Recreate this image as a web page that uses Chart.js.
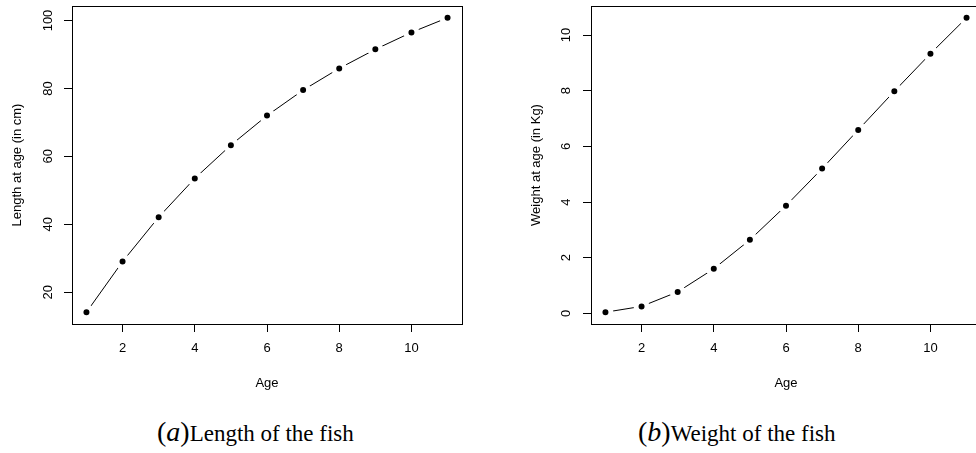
<!DOCTYPE html>
<html>
<head>
<meta charset="utf-8">
<script src="https://cdn.jsdelivr.net/npm/chart.js@4"></script>
<style>
  html, body { margin:0; padding:0; background:#fff; width:976px; height:453px; overflow:hidden; position:relative; }
  canvas { position:absolute; top:0; }
  #c1 { left:0; }
  #c2 { left:519px; }
  .cap { position:absolute; top:417px; white-space:nowrap; font-family:"Liberation Serif", serif; font-size:23px; color:#000; line-height:30px; }
  .cap .tag { font-size:28px; }
  #cap1 { left:157px; }
  #cap2 { left:638px; }
</style>
</head>
<body>
<canvas id="c1" width="490" height="400"></canvas>
<canvas id="c2" width="490" height="400"></canvas>
<div class="cap" id="cap1"><span class="tag">(<i>a</i>)</span>Length of the fish</div>
<div class="cap" id="cap2"><span class="tag">(<i>b</i>)</span>Weight of the fish</div>
<script>
// values
const ages = [1, 2, 3, 4, 5, 6, 7, 8, 9, 10, 11]
const lengthCm = [14.1, 29.0, 42.1, 53.5, 63.3, 72.0, 79.5, 85.9, 91.5, 96.5, 100.8]
const weightKg = [0.04, 0.25, 0.77, 1.60, 2.64, 3.87, 5.20, 6.59, 7.98, 9.33, 10.62]

const ageTicks = [2, 4, 6, 8, 10]
const lengthTicks = [20, 40, 60, 80, 100]
const weightTicks = [0, 2, 4, 6, 8, 10]

Chart.defaults.font.family = "Liberation Sans, Arial, sans-serif"
Chart.defaults.font.size = 13
Chart.defaults.color = "#000"

// R style: axis range is data range plus 4% on each side
function rRange(vals) {
    const lo = Math.min(...vals), hi = Math.max(...vals)
    const pad = (hi - lo) * 0.04
    return { min: lo - pad, max: hi + pad }
}

const boxPlugin = {
    id: "box",
    afterDraw(chart) {
        const a = chart.chartArea
        const ctx = chart.ctx
        ctx.save()
        ctx.strokeStyle = "#000"
        ctx.lineWidth = 1
        ctx.strokeRect(Math.round(a.left) + 0.5, Math.round(a.top) + 0.5,
            Math.round(a.right - a.left), Math.round(a.bottom - a.top))
        ctx.restore()
    }
}

function noPad(scale) {
    scale.paddingTop = 0
    scale.paddingBottom = 0
    scale.paddingLeft = 0
    scale.paddingRight = 0
}

function makePlot(id, values, yTicks, yTitle, yPad) {
    const xr = rRange(ages)
    const yr = rRange(values)
    return new Chart(document.getElementById(id), {
        type: "scatter",
        data: {
            datasets: [{
                data: ages.map((a, i) => ({ x: a, y: values[i] })),
                showLine: true,
                borderColor: "#000",
                borderWidth: 1,
                pointRadius: 5.5,
                pointBorderWidth: 5,
                pointBorderColor: "#fff",
                pointBackgroundColor: "#000",
                pointHoverRadius: 5.5
            }]
        },
        options: {
            responsive: false,
            animation: false,
            layout: { autoPadding: false, padding: { top: 6, right: 28, left: 0, bottom: 0 } },
            plugins: { legend: { display: false }, tooltip: { enabled: false } },
            scales: {
                x: {
                    type: "linear",
                    min: xr.min,
                    max: xr.max,
                    afterBuildTicks: s => { s.ticks = ageTicks.map(v => ({ value: v })) },
                    afterFit: s => { s.height = 76; noPad(s) },
                    grid: { drawOnChartArea: false, tickLength: 8, color: "#000" },
                    border: { display: false },
                    ticks: { padding: 9, maxRotation: 0, autoSkip: false },
                    title: { display: true, text: "Age", padding: { top: 0, bottom: 9 } }
                },
                y: {
                    type: "linear",
                    min: yr.min,
                    max: yr.max,
                    afterBuildTicks: s => { s.ticks = yTicks.map(v => ({ value: v })) },
                    afterFit: s => { s.width = 72; noPad(s) },
                    grid: { drawOnChartArea: false, tickLength: 8, color: "#000" },
                    border: { display: false },
                    ticks: { padding: yPad, minRotation: 90, maxRotation: 90, crossAlign: "center", autoSkip: false },
                    title: { display: true, text: yTitle, padding: { top: 10, bottom: 0 } }
                }
            }
        },
        plugins: [boxPlugin]
    })
}

makePlot("c1", lengthCm, lengthTicks, "Length at age (in cm)", 5)
makePlot("c2", weightKg, weightTicks, "Weight at age (in Kg)", 9)
</script>
</body>
</html>
